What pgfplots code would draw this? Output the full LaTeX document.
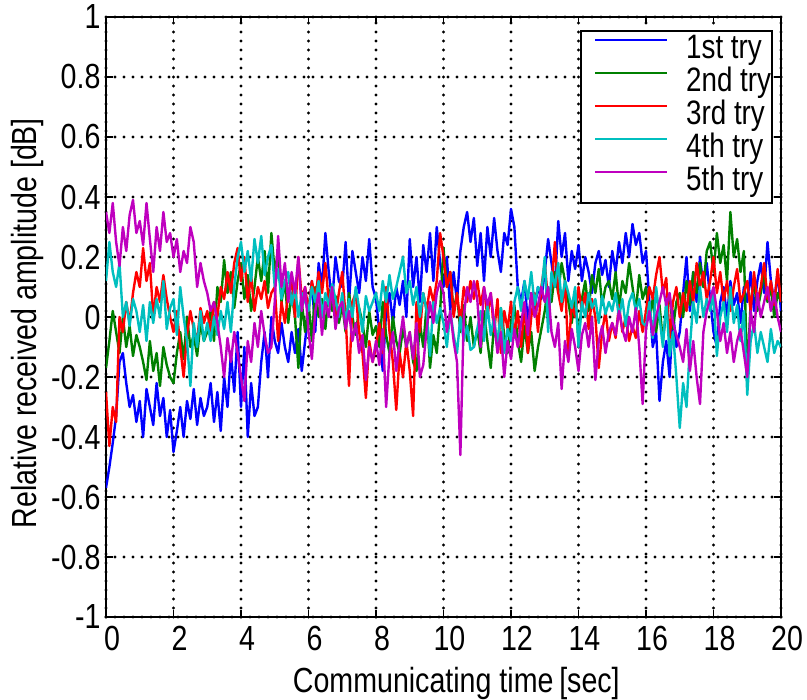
\documentclass[border=0pt]{standalone}
\usepackage{fontspec}
\setmainfont{Liberation Sans}[FakeStretch=0.82]
\usepackage{pgfplots}
\pgfplotsset{compat=1.18}
\usepackage{pgfplotstable}
\definecolor{mblue}{RGB}{0,0,255}
\definecolor{mgreen}{RGB}{0,128,0}
\definecolor{mred}{RGB}{255,0,0}
\definecolor{mcyan}{RGB}{0,191,191}
\definecolor{mmag}{RGB}{191,0,191}

% t  1st  2nd  3rd  4th  5th
\pgfplotstableread{
t a b c d e
0.0 -0.57 -0.17 -0.25 0.12 0.35
0.1 -0.50 -0.08 -0.43 0.25 0.28
0.2 -0.42 0.02 -0.30 0.15 0.38
0.3 -0.33 -0.05 -0.35 0.10 0.25
0.4 -0.15 -0.12 0.00 0.18 0.17
0.5 -0.12 0.00 -0.05 0.00 0.30
0.6 -0.22 -0.10 0.05 0.05 0.22
0.7 -0.30 -0.03 -0.02 -0.03 0.34
0.8 -0.26 -0.13 0.08 0.06 0.39
0.9 -0.35 -0.06 0.15 0.02 0.28
1.0 -0.28 -0.10 0.10 -0.05 0.32
1.1 -0.40 -0.15 0.23 0.04 0.24
1.2 -0.24 -0.21 0.12 -0.08 0.38
1.3 -0.30 -0.08 0.18 0.05 0.26
1.4 -0.36 -0.18 0.00 -0.02 0.15
1.5 -0.22 -0.12 0.10 0.06 0.30
1.6 -0.33 -0.23 0.05 0.00 0.22
1.7 -0.27 -0.10 0.14 0.12 0.35
1.8 -0.40 -0.16 0.06 -0.04 0.25
1.9 -0.31 -0.20 0.00 0.03 0.28
2.0 -0.45 -0.22 -0.05 0.06 0.20
2.1 -0.38 -0.12 0.02 -0.06 0.26
2.2 -0.30 -0.05 -0.10 0.10 0.15
2.3 -0.40 -0.14 -0.20 0.00 0.22
2.4 -0.28 0.00 -0.06 -0.08 0.18
2.5 -0.34 -0.10 0.02 -0.23 0.30
2.6 -0.24 -0.06 -0.04 -0.02 0.25
2.7 -0.36 -0.13 -0.08 -0.10 0.10
2.8 -0.27 -0.02 0.03 0.02 0.18
2.9 -0.33 -0.08 -0.02 -0.08 0.12
3.0 -0.30 -0.05 0.02 -0.02 0.08
3.1 -0.22 0.02 -0.05 -0.08 0.02
3.2 -0.35 -0.08 0.05 0.00 0.05
3.3 -0.25 0.10 0.00 -0.06 -0.02
3.4 -0.38 0.05 0.10 0.02 -0.10
3.5 -0.20 0.19 0.06 -0.04 -0.20
3.6 -0.30 0.08 0.15 0.05 -0.07
3.7 -0.12 0.15 0.08 -0.05 -0.15
3.8 -0.25 0.03 0.18 0.10 -0.05
3.9 -0.05 0.12 0.23 0.20 -0.12
4.0 -0.30 0.18 0.12 0.25 -0.20
4.1 -0.10 0.06 0.20 0.15 -0.28
4.2 -0.40 0.14 0.05 0.22 -0.08
4.3 -0.22 0.02 0.14 0.12 -0.15
4.4 -0.33 0.10 0.02 0.26 -0.02
4.5 -0.30 0.20 0.10 0.18 -0.10
4.6 -0.15 0.12 0.06 0.27 0.02
4.7 -0.05 0.22 0.12 0.14 -0.06
4.8 -0.20 0.08 0.03 0.20 -0.12
4.9 0.00 0.28 0.08 0.24 -0.10
5.0 -0.08 0.15 0.10 0.10 0.05
5.1 -0.12 0.22 -0.08 0.16 0.27
5.2 -0.02 0.05 0.05 0.06 0.10
5.3 -0.10 0.12 -0.02 0.12 0.18
5.4 -0.15 -0.02 0.08 0.15 0.05
5.5 -0.05 0.08 0.12 0.04 0.15
5.6 -0.12 0.00 0.00 0.10 0.08
5.7 -0.04 -0.17 0.20 0.00 0.20
5.8 -0.18 0.05 0.06 0.08 0.02
5.9 -0.08 -0.05 0.10 0.05 0.10
6.0 0.02 0.05 0.02 0.02 -0.05
6.1 0.12 -0.08 0.12 0.10 -0.14
6.2 -0.05 0.10 0.06 0.05 0.02
6.3 0.18 0.00 0.15 0.12 0.08
6.4 0.10 0.06 0.08 0.00 -0.06
6.5 0.28 -0.04 0.18 0.08 0.05
6.6 0.15 0.09 0.05 0.04 0.00
6.7 0.05 0.02 0.10 0.11 0.10
6.8 0.20 0.07 0.00 0.06 -0.04
6.9 0.12 -0.02 0.08 0.00 0.03
7.0 0.10 0.04 0.15 0.08 0.05
7.1 0.25 -0.05 0.00 -0.02 -0.04
7.2 0.05 0.08 -0.23 0.06 0.02
7.3 0.22 0.00 0.05 0.00 -0.08
7.4 0.15 -0.06 0.08 0.10 -0.02
7.5 0.08 0.03 -0.05 0.03 -0.12
7.6 0.20 -0.02 -0.12 -0.05 -0.06
7.7 0.12 -0.10 -0.27 0.07 -0.21
7.8 0.26 0.02 -0.08 0.02 -0.10
7.9 0.10 -0.06 -0.15 0.05 -0.15
8.0 0.06 -0.03 -0.10 0.08 -0.08
8.1 -0.05 -0.10 -0.02 0.02 -0.16
8.2 -0.18 0.05 -0.12 0.12 -0.04
8.3 0.02 -0.06 0.10 0.05 -0.30
8.4 0.08 -0.12 -0.05 0.14 -0.12
8.5 -0.02 0.00 -0.15 0.06 -0.05
8.6 0.10 -0.08 -0.31 0.10 -0.18
8.7 0.04 -0.12 -0.12 0.15 -0.08
8.8 0.12 -0.04 -0.20 0.20 0.00
8.9 0.00 -0.10 -0.08 0.08 -0.10
9.0 0.26 -0.05 -0.18 0.12 -0.05
9.1 0.10 -0.15 -0.33 0.04 -0.14
9.2 0.20 -0.18 0.05 0.10 -0.02
9.3 0.05 -0.02 -0.05 0.00 -0.20
9.4 0.24 -0.10 0.08 0.08 -0.16
9.5 0.15 0.04 0.02 0.02 -0.04
9.6 0.28 -0.17 0.10 -0.13 0.05
9.7 0.12 -0.06 0.05 0.05 -0.02
9.8 0.30 -0.12 0.12 -0.02 0.08
9.9 0.18 0.02 0.28 0.03 0.12
10.0 0.10 0.23 0.20 -0.02 0.08
10.1 0.20 0.10 0.10 -0.10 -0.05
10.2 0.02 0.15 0.15 0.02 0.02
10.3 0.15 0.02 0.00 -0.06 -0.08
10.4 0.05 0.08 0.08 -0.12 -0.15
10.5 0.22 -0.05 -0.02 0.00 -0.46
10.6 0.30 0.04 0.10 -0.08 0.00
10.7 0.35 -0.08 0.05 -0.03 0.10
10.8 0.25 0.00 0.12 -0.11 0.05
10.9 0.33 -0.10 0.06 -0.10 0.12
11.0 0.17 -0.04 0.12 -0.04 0.06
11.1 0.28 -0.12 0.04 0.02 -0.10
11.2 0.12 0.02 0.10 -0.08 0.10
11.3 0.30 -0.08 0.00 0.04 0.04
11.4 0.20 -0.17 0.08 -0.06 0.08
11.5 0.33 -0.02 -0.05 0.00 -0.02
11.6 0.22 -0.10 0.06 -0.10 -0.12
11.7 0.15 0.03 -0.12 0.03 -0.05
11.8 0.28 -0.06 0.02 -0.12 -0.20
11.9 0.24 -0.12 -0.04 -0.04 -0.08
12.0 0.36 -0.02 0.05 -0.08 -0.14
12.1 0.30 0.04 -0.06 0.05 -0.04
12.2 0.10 -0.08 0.02 0.10 -0.10
12.3 0.05 -0.15 -0.10 0.02 -0.02
12.4 0.12 -0.03 0.04 0.12 0.05
12.5 -0.02 -0.12 -0.12 0.06 -0.06
12.6 0.08 -0.05 0.00 0.15 0.08
12.7 0.03 -0.18 0.08 0.04 0.00
12.8 0.10 -0.10 -0.05 0.10 0.04
12.9 0.06 -0.04 0.10 0.08 0.10
13.0 0.15 0.02 0.18 0.20 0.05
13.1 0.26 0.10 0.05 -0.05 0.10
13.2 0.18 0.05 0.10 0.15 -0.05
13.3 0.10 0.15 0.25 0.10 -0.10
13.4 0.32 0.08 0.08 0.18 -0.02
13.5 0.20 0.18 0.02 0.05 -0.24
13.6 0.28 0.12 0.12 0.12 -0.08
13.7 0.12 0.05 -0.13 0.08 -0.15
13.8 0.22 -0.02 0.05 0.03 -0.04
13.9 0.16 0.08 0.00 0.10 -0.10
14.0 0.24 -0.08 0.10 -0.10 -0.18
14.1 0.12 0.06 0.02 0.05 -0.06
14.2 0.20 0.12 0.08 0.00 -0.02
14.3 0.15 0.02 -0.04 0.08 -0.10
14.4 0.08 0.14 0.06 0.03 0.00
14.5 0.18 0.08 0.00 0.06 -0.21
14.6 0.22 0.16 -0.17 -0.02 -0.08
14.7 0.14 0.04 -0.05 0.07 -0.03
14.8 0.19 0.10 0.02 0.01 -0.12
14.9 0.10 0.12 -0.08 0.05 -0.05
15.0 0.22 0.06 -0.02 0.02 -0.02
15.1 0.15 0.15 -0.07 0.08 -0.06
15.2 0.25 0.03 0.04 0.00 0.02
15.3 0.18 0.12 -0.05 0.06 -0.04
15.4 0.28 0.08 0.00 -0.03 -0.08
15.5 0.20 0.18 -0.08 0.05 0.00
15.6 0.31 0.10 -0.03 0.08 -0.05
15.7 0.24 0.02 -0.07 0.02 0.03
15.8 0.28 0.14 0.02 0.06 -0.10
15.9 0.18 0.06 -0.05 -0.02 -0.29
16.0 0.22 0.10 0.02 -0.03 -0.04
16.1 0.05 0.00 0.10 0.05 0.02
16.2 -0.10 0.06 0.06 -0.07 -0.06
16.3 -0.05 -0.05 0.14 0.10 0.00
16.4 -0.28 0.04 0.20 0.00 0.05
16.5 -0.15 -0.08 0.08 -0.10 0.10
16.6 -0.08 0.02 0.13 0.06 0.04
16.7 -0.20 0.07 -0.07 -0.13 0.08
16.8 0.02 -0.04 0.05 -0.05 -0.02
16.9 -0.10 0.05 0.10 -0.20 -0.06
17.0 -0.05 0.08 0.00 -0.37 -0.10
17.1 0.08 0.00 0.08 -0.22 -0.15
17.2 0.20 0.12 0.02 -0.30 -0.04
17.3 0.02 0.04 0.12 -0.10 -0.18
17.4 0.15 0.15 0.05 0.05 -0.08
17.5 0.05 0.08 0.18 -0.02 -0.20
17.6 0.20 0.18 0.10 0.10 -0.29
17.7 0.10 0.10 0.15 0.00 -0.05
17.8 0.18 0.22 0.06 0.06 0.02
17.9 0.06 0.25 0.12 0.02 0.06
18.0 -0.05 0.15 0.20 0.08 0.10
18.1 -0.10 0.28 0.08 -0.13 0.02
18.2 0.05 0.18 0.15 0.00 -0.08
18.3 0.10 0.24 0.05 0.05 -0.02
18.4 0.00 0.12 0.12 -0.05 -0.12
18.5 0.12 0.35 0.02 0.10 -0.05
18.6 0.04 0.20 0.10 -0.02 -0.15
18.7 0.08 0.26 0.16 0.04 -0.08
18.8 -0.02 0.15 0.05 -0.08 -0.04
18.9 0.10 0.22 0.08 0.02 -0.12
19.0 0.05 -0.20 0.12 -0.26 -0.20
19.1 0.15 0.05 0.02 -0.08 0.02
19.2 0.02 0.12 0.15 -0.02 -0.05
19.3 0.12 0.02 0.05 -0.12 0.08
19.4 0.18 0.08 0.10 -0.05 0.00
19.5 0.08 0.15 0.18 -0.10 0.05
19.6 0.25 0.05 0.06 -0.15 0.10
19.7 0.12 0.10 0.12 -0.04 0.02
19.8 0.05 0.00 0.04 -0.12 0.08
19.9 0.15 0.08 0.16 -0.08 0.00
20.0 0.02 0.05 0.05 -0.10 -0.05
}\tries

\begin{document}
\begin{tikzpicture}
\begin{axis}[
  scale only axis, width=675bp, height=600bp,
  xmin=0, xmax=20, ymin=-1, ymax=1,
  xtick={0,2,4,6,8,10,12,14,16,18,20},
  xticklabels={0,2,4,6,8,10,12,14,16,18,20},
  ytick={-1,-0.8,-0.6,-0.4,-0.2,0,0.2,0.4,0.6,0.8,1},
  yticklabels={-1,-0.8,-0.6,-0.4,-0.2,0,0.2,0.4,0.6,0.8,1},
  tick align=inside, major tick length=7bp,
  every tick/.style={black, line width=1.2bp},
  axis line style={line width=1.6bp},
  grid=major,
  grid style={black, line width=3.4bp, line cap=round, dash pattern=on 0pt off 9bp},
  tick label style={font=\fontsize{35}{40}\selectfont},
  x tick label style={xshift=6bp, yshift=-6bp},
  y tick label style={xshift=-2bp},
  xlabel={Communicating time\,[sec]},
  ylabel={Relative received amplitude [dB]},
  label style={font=\fontsize{35}{40}\selectfont},
  x label style={at={(axis description cs:0.519,-0.11)}, anchor=center},
  y label style={at={(axis description cs:-0.116,0.49)}, anchor=center},
  legend style={at={(rel axis cs:0.988,0.978)}, anchor=north east,
    draw=black, line width=1.6bp, fill=white,
    font=\fontsize{34}{35}\selectfont,
    inner xsep=1bp, inner ysep=3.5bp, row sep=0bp,
    nodes={inner sep=0pt, text height=24bp, text depth=9bp},
    column sep=18bp},
  legend cell align=left,
  legend image code/.code={\path (0bp,0bp);
    \draw[#1, line width=1.8bp] (12bp,11bp) -- (84bp,11bp);},
  every axis plot/.append style={line width=2.4bp, line join=round},
]
\addplot[mblue] table[x=t, y=a] {\tries};
\addplot[mgreen] table[x=t, y=b] {\tries};
\addplot[mred] table[x=t, y=c] {\tries};
\addplot[mcyan] table[x=t, y=d] {\tries};
\addplot[mmag] table[x=t, y=e] {\tries};
\legend{1st try, 2nd try, 3rd try, 4th try, 5th try}
\end{axis}
\pgfresetboundingbox
\path ([shift={(-106bp,-83bp)}]current axis.south west) rectangle ([shift={(26bp,17bp)}]current axis.north east);
\end{tikzpicture}
\end{document}
